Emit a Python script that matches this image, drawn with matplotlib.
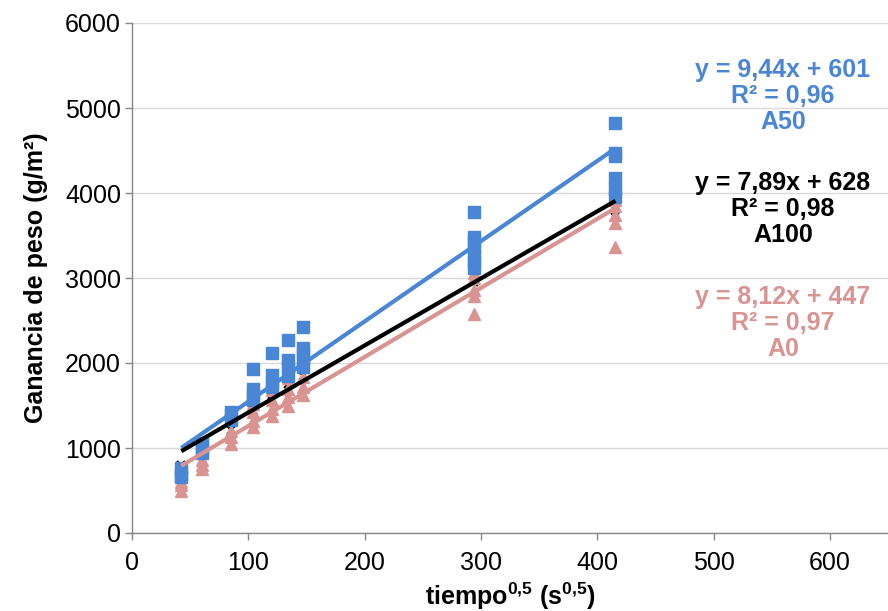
import numpy as np
import matplotlib.pyplot as plt

# Datos (tiempo^0,5 en s^0,5, ganancia en g/m2)
tiempos = [42.4, 60.0, 84.9, 103.9, 120.0, 134.2, 147.0, 293.9, 415.7]

a50 = [[660, 700, 760],
       [940, 1000, 1060],
       [1330, 1390, 1420],
       [1560, 1620, 1700, 1930],
       [1720, 1780, 1860, 2120],
       [1850, 1950, 2030, 2270],
       [1950, 2040, 2120, 2180, 2420],
       [3120, 3190, 3270, 3350, 3430, 3480, 3780],
       [3950, 4050, 4180, 4430, 4470, 4820]]

a0 = [[500, 560, 600],
      [750, 800, 860],
      [1050, 1130, 1200],
      [1250, 1320, 1420, 1520],
      [1380, 1460, 1560, 1680],
      [1500, 1600, 1700, 1820],
      [1620, 1720, 1830, 1950],
      [2580, 2790, 2860, 3000, 3060],
      [3370, 3650, 3740, 3850, 3920]]

a100 = [[800],
        [1000],
        [1210, 1300],
        [1450, 1550],
        [1620, 1700],
        [1750, 1850],
        [1850, 1950],
        [2950, 3050, 3120],
        [3720, 3840, 3900]]

# ecuaciones de tendencia mostradas en el grafico (pendiente, ordenada)
pend = {'A50': 9.44, 'A100': 7.89, 'A0': 8.12}
ord0 = {'A50': 601, 'A100': 628, 'A0': 447}
r2 = {'A50': '0,96', 'A100': '0,98', 'A0': '0,97'}

azul = '#4A86D6'
rosa = '#D99492'
negro = '#000000'

plt.rcParams['font.family'] = ['Liberation Sans', 'DejaVu Sans']
plt.rcParams['mathtext.fontset'] = 'custom'
plt.rcParams['mathtext.rm'] = 'Liberation Sans'
plt.rcParams['mathtext.bf'] = 'Liberation Sans:bold'


def aplanar(series):
    xs = []
    ys = []
    for t, vals in zip(tiempos, series):
        for v in vals:
            xs += [t]
            ys += [v]
    return xs, ys


fig = plt.figure(figsize=(8.88, 6.11), dpi=100)
ax = fig.add_axes([132/888, 78/611, 756/888, 510/611])

x100, y100 = aplanar(a100)
ax.plot(x100, y100, 'x', color=negro, ms=6, mew=1.5, zorder=2)
x0, y0 = aplanar(a0)
ax.plot(x0, y0, '^', color=rosa, ms=9, mec=rosa, zorder=3)
x50, y50 = aplanar(a50)
ax.plot(x50, y50, 's', color=azul, ms=8, mec=azul, zorder=3)

# lineas de tendencia
xl = np.array([min(tiempos), max(tiempos)])
for nombre, col, z in [('A0', rosa, 4), ('A50', azul, 5), ('A100', negro, 6)]:
    ax.plot(xl, pend[nombre]*xl + ord0[nombre], color=col, lw=3,
            solid_capstyle='butt', zorder=z)

ax.set_xlim(0, 650)
ax.set_ylim(0, 6000)
ax.set_xticks(range(0, 700, 100))
ax.set_yticks(range(0, 7000, 1000))
ax.yaxis.grid(True, color='#D9D9D9', lw=1)
ax.set_axisbelow(True)
for lado in ['top', 'right']:
    ax.spines[lado].set_visible(False)
for lado in ['left', 'bottom']:
    ax.spines[lado].set_color('#868686')
    ax.spines[lado].set_linewidth(1)
ax.tick_params(axis='both', direction='out', length=5, width=1,
               color='#868686', labelsize=18, labelcolor='black')
ax.tick_params(axis='y', pad=3)
ax.tick_params(axis='x', pad=8)

ax.set_ylabel('Ganancia de peso (g/m²)', fontsize=18, fontweight='bold', labelpad=12)
ax.set_xlabel(r'tiempo$^{\mathbf{0{,}5}}$ (s$^{\mathbf{0{,}5}}$)', fontsize=18,
              fontweight='bold', labelpad=4)

# etiquetas de las ecuaciones
bloques = [('A50', azul, 96), ('A100', negro, 209), ('A0', rosa, 323)]
for nombre, col, ypix in bloques:
    texto = 'y = ' + str(pend[nombre]).replace('.', ',') + 'x + ' + str(ord0[nombre]) \
            + '\nR² = ' + r2[nombre] + '\n' + nombre
    fig.text(783/888, 1 - ypix/611, texto, color=col, fontsize=18, fontweight='bold',
             ha='center', va='center', multialignment='center', linespacing=1.1)

fig.savefig('out.png', dpi=100)
